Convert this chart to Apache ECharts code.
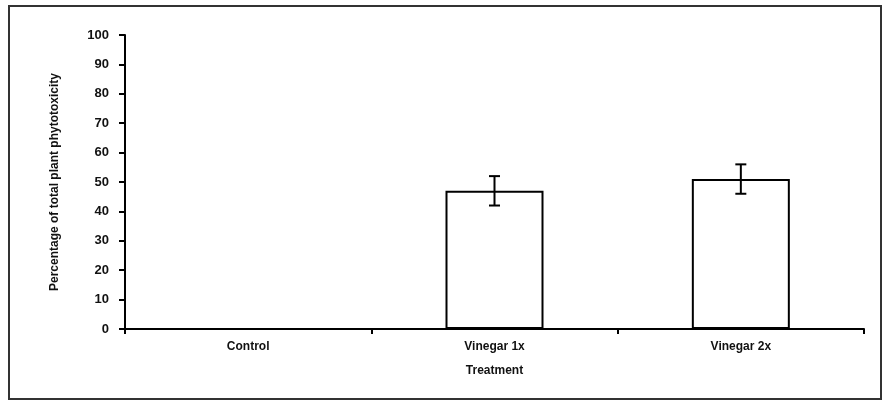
<!DOCTYPE html>
<html>
<head>
<meta charset="utf-8">
<script src="https://cdn.jsdelivr.net/npm/echarts@6/dist/echarts.min.js"></script>
<style>
html,body{margin:0;padding:0;background:#fff;}
#chart{width:883px;height:401px;}
</style>
</head>
<body>
<div id="chart"></div>
<script>
const categories = ['Control', 'Vinegar 1x', 'Vinegar 2x'];
const values = [0, 47, 51];
const errors = [0, 5, 5];
const yTicks = [0, 10, 20, 30, 40, 50, 60, 70, 80, 90, 100];

const chart = echarts.init(document.getElementById('chart'), null, {renderer: 'canvas'});
const font = 'Liberation Sans, Arial, sans-serif';

const errData = categories.map((c, i) => [i, values[i] - errors[i], values[i] + errors[i]]);

chart.setOption({
  animation: false,
  backgroundColor: '#fff',
  graphic: [{
    type: 'rect',
    shape: {x: 9, y: 6, width: 872, height: 393},
    style: {fill: 'none', stroke: '#333', lineWidth: 2},
    silent: true
  }],
  grid: {left: 125, right: 19, top: 35, bottom: 72},
  xAxis: {
    type: 'category',
    data: categories,
    name: 'Treatment',
    nameLocation: 'middle',
    nameGap: 36,
    nameTextStyle: {fontFamily: font, fontSize: 12, fontWeight: 'bold', color: '#111'},
    axisLine: {lineStyle: {color: '#000', width: 2}},
    axisTick: {show: true, length: 5, lineStyle: {color: '#000', width: 2}},
    axisLabel: {fontFamily: font, fontSize: 12, fontWeight: 'bold', color: '#111', margin: 12},
    splitLine: {show: false}
  },
  yAxis: {
    type: 'value',
    min: 0,
    max: 100,
    interval: 10,
    name: 'Percentage of total plant phytotoxicity',
    nameLocation: 'middle',
    nameGap: 64,
    nameRotate: 90,
    nameTextStyle: {fontFamily: font, fontSize: 12, fontWeight: 'bold', color: '#111'},
    axisLine: {show: true, lineStyle: {color: '#000', width: 2}},
    axisTick: {show: true, length: 6, lineStyle: {color: '#000', width: 2}},
    axisLabel: {fontFamily: font, fontSize: 13, fontWeight: 'bold', color: '#111', margin: 16,
      formatter: v => yTicks.includes(v) ? String(v) : ''},
    splitLine: {show: false}
  },
  series: [{
    type: 'bar',
    data: values,
    barWidth: 98,
    itemStyle: {color: '#fff', borderColor: '#000', borderWidth: 2},
    silent: true
  }, {
    type: 'custom',
    data: errData.filter(d => errors[d[0]] > 0),
    renderItem: function (params, api) {
      const x = api.value(0);
      const lo = api.coord([x, api.value(1)]);
      const hi = api.coord([x, api.value(2)]);
      const cx = lo[0];
      const hw = 5.5;
      const st = {stroke: '#000', lineWidth: 2};
      return {
        type: 'group',
        children: [
          {type: 'line', shape: {x1: cx, y1: lo[1], x2: cx, y2: hi[1]}, style: st},
          {type: 'line', shape: {x1: cx - hw, y1: lo[1], x2: cx + hw, y2: lo[1]}, style: st},
          {type: 'line', shape: {x1: cx - hw, y1: hi[1], x2: cx + hw, y2: hi[1]}, style: st}
        ]
      };
    },
    z: 10,
    silent: true
  }]
});
</script>
</body>
</html>
